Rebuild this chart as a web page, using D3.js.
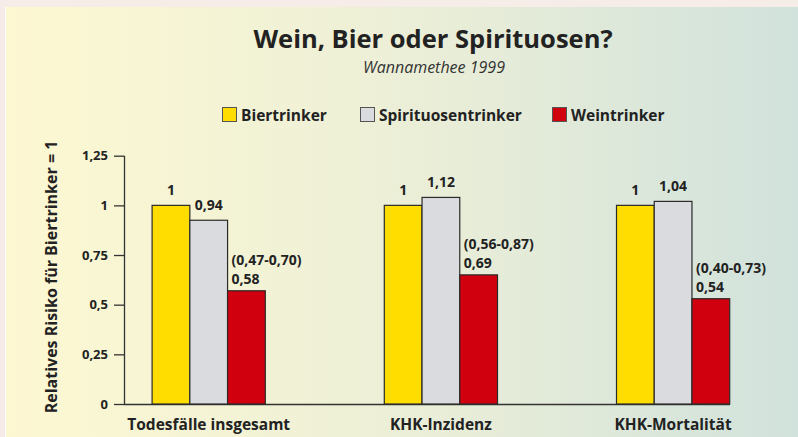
<!DOCTYPE html>
<html>
<head>
<meta charset="utf-8">
<script src="https://cdn.jsdelivr.net/npm/d3@7"></script>
<style>
  body { margin: 0; background: #f6ebe9; }
  svg { display: block; font-family: "Open Sans", "Noto Sans", sans-serif; }
</style>
</head>
<body>
<div id="chart"></div>
<script>
// chart data
const categories = ["Todesfälle insgesamt", "KHK-Inzidenz", "KHK-Mortalität"];
const seriesNames = ["Biertrinker", "Spirituosentrinker", "Weintrinker"];
// bar heights as drawn in the picture
const bierValues = [1, 1, 1];
const spirValues = [0.925, 1.04, 1.02];
const weinValues = [0.57, 0.65, 0.53];
// printed value labels
const bierLabels = ["1", "1", "1"];
const spirLabels = ["0,94", "1,12", "1,04"];
const weinLabels = ["0,58", "0,69", "0,54"];
const weinRanges = ["(0,47-0,70)", "(0,56-0,87)", "(0,40-0,73)"];
const yTicks = [0, 0.25, 0.5, 0.75, 1, 1.25];
const yTickLabels = ["0", "0,25", "0,5", "0,75", "1", "1,25"];

const width = 798;
const height = 437;
const colors = { "Biertrinker": "#ffdd00", "Spirituosentrinker": "#d9dbde", "Weintrinker": "#d0000f" };

const svg = d3.select("#chart").append("svg")
    .attr("width", width)
    .attr("height", height);

// background panel gradient
const grad = svg.append("defs").append("linearGradient")
    .attr("id", "bg").attr("x1", "0%").attr("x2", "100%").attr("y1", "0%").attr("y2", "0%");
grad.append("stop").attr("offset", "0%").attr("stop-color", "#fdf8d2");
grad.append("stop").attr("offset", "50%").attr("stop-color", "#ecefd7");
grad.append("stop").attr("offset", "100%").attr("stop-color", "#d1e2dc");

svg.append("rect").attr("x", 0).attr("y", 0).attr("width", width).attr("height", 7).attr("fill", "#f6ece8");
svg.append("line").attr("x1", 5.5).attr("x2", 5.5).attr("y1", 7).attr("y2", height).attr("stroke", "#ffffff");
svg.append("rect").attr("x", 6).attr("y", 7).attr("width", width - 6).attr("height", height - 7).attr("fill", "url(#bg)");

//scales
const x0 = d3.scaleBand()
    .domain(categories)
    .range([92.6, 789.2]);

const x1 = d3.scaleBand()
    .domain(seriesNames)
    .range([0, 113.2]);

const y = d3.scaleLinear()
    .domain([0, 1.25])
    .range([404, 155.7]);

const textColor = "#222222";
const axisColor = "#333333";

// title
svg.append("text")
    .attr("x", 433).attr("y", 48)
    .attr("text-anchor", "middle")
    .style("font-size", "25.5px").style("font-weight", "bold").attr("fill", textColor)
    .text("Wein, Bier oder Spirituosen?");

svg.append("text")
    .attr("x", 434).attr("y", 73)
    .attr("text-anchor", "middle")
    .style("font-size", "16px").style("font-style", "italic").attr("fill", "#333")
    .text("Wannamethee 1999");

// legend
const legendX = [222, 360, 552];
seriesNames.forEach(function (name, i) {
    svg.append("rect")
        .attr("x", legendX[i] + 0.5).attr("y", 107.5)
        .attr("width", 14).attr("height", 14)
        .attr("fill", colors[name])
        .attr("stroke", "#555").attr("stroke-width", 1);
    svg.append("text")
        .attr("x", legendX[i] + 19).attr("y", 120.5)
        .style("font-size", "15.5px").style("font-weight", "bold").attr("fill", textColor)
        .text(name);
});

// y axis
const yAxis = svg.append("g")
    .attr("transform", "translate(124,0)")
    .call(d3.axisLeft(y).tickValues(yTicks).tickSize(10).tickPadding(6)
        .tickFormat(function (d, i) { return yTickLabels[i]; }));
yAxis.select(".domain").attr("d", "M0.5," + y(1.25) + "V" + y(0)).attr("stroke", axisColor).attr("stroke-width", 1.3);
yAxis.selectAll(".tick line").attr("stroke", axisColor).attr("stroke-width", 1.3);
yAxis.selectAll(".tick text")
    .style("font-size", "13px").style("font-weight", "bold").style("font-family", "'Open Sans', sans-serif")
    .attr("fill", textColor);

// x axis line and labels
const xAxis = svg.append("g")
    .attr("transform", "translate(0," + y(0) + ")")
    .call(d3.axisBottom(x0).tickSize(0).tickPadding(15));
xAxis.select(".domain").attr("d", "M124,0.5H730").attr("stroke", axisColor).attr("stroke-width", 1.3);
xAxis.selectAll(".tick text")
    .style("font-size", "15.5px").style("font-weight", "bold").style("font-family", "'Open Sans', sans-serif")
    .attr("fill", textColor);

svg.append("text")
    .attr("transform", "rotate(-90)")
    .attr("x", -277).attr("y", 57)
    .attr("text-anchor", "middle")
    .style("font-size", "16px").style("font-weight", "bold").attr("fill", textColor)
    .text("Relatives Risiko für Biertrinker = 1");

// bars
const barData = [];
categories.forEach(function (cat, i) {
    barData.push({ cat: cat, series: "Biertrinker", value: bierValues[i], label: bierLabels[i] });
    barData.push({ cat: cat, series: "Spirituosentrinker", value: spirValues[i], label: spirLabels[i] });
    barData.push({ cat: cat, series: "Weintrinker", value: weinValues[i], label: weinLabels[i], range: weinRanges[i] });
});

function barX(d) { return x0(d.cat) + x0.bandwidth() / 2 - 56.6 + x1(d.series); }

svg.selectAll("rect.bar")
    .data(barData)
    .enter()
    .append("rect")
    .attr("class", "bar")
    .attr("x", function (d) { return barX(d); })
    .attr("y", function (d) { return y(d.value); })
    .attr("width", x1.bandwidth())
    .attr("height", function (d) { return y(0) - y(d.value); })
    .attr("fill", function (d) { return colors[d.series]; })
    .attr("stroke", "#2a2a2a")
    .attr("stroke-width", 1.2);

// value labels
barData.forEach(function (d) {
    if (d.series === "Weintrinker") {
        svg.append("text")
            .attr("x", barX(d) + 4).attr("y", y(d.value) - 7)
            .style("font-size", "14px").style("font-weight", "bold").attr("fill", textColor)
            .text(d.label);
        svg.append("text")
            .attr("x", barX(d) + 4).attr("y", y(d.value) - 26)
            .style("font-size", "14px").style("font-weight", "bold").attr("fill", textColor)
            .text(d.range);
    }
    else {
        svg.append("text")
            .attr("x", barX(d) + x1.bandwidth() / 2).attr("y", y(d.value) - 10)
            .attr("text-anchor", "middle")
            .style("font-size", "14px").style("font-weight", "bold").attr("fill", textColor)
            .text(d.label);
    }
});
</script>
</body>
</html>
